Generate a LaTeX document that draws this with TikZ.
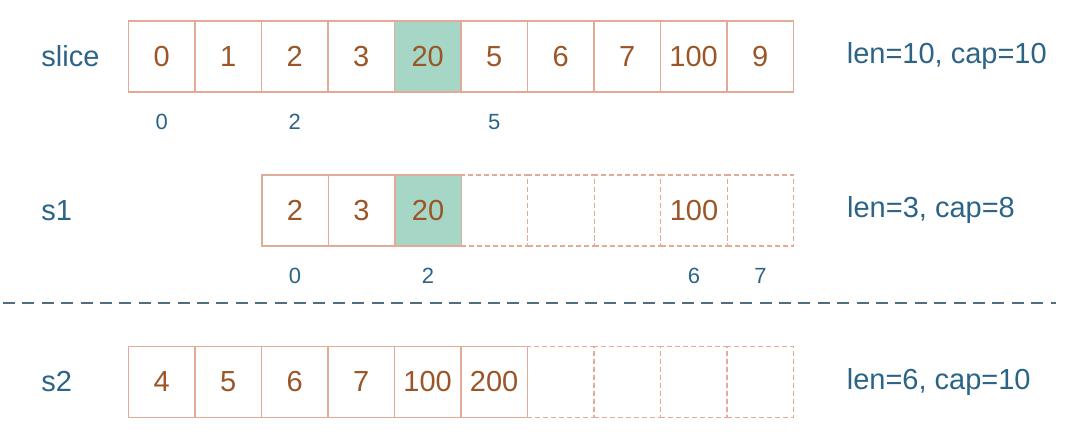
\documentclass[tikz,border=0pt]{standalone}
\usepackage{fontspec}
\setmainfont{Liberation Sans}
\usetikzlibrary{positioning}
\definecolor{cellline}{HTML}{E3AA97}
\definecolor{numtext}{HTML}{9B5526}
\definecolor{nametext}{HTML}{2B6487}
\definecolor{hit}{HTML}{A6D6C6}
\definecolor{sepline}{HTML}{4F6E80}

\begin{document}
\begin{tikzpicture}[x=0.5pt,y=-0.5pt]
\tikzstyle{cell}=[rectangle, minimum width=33.25pt, minimum height=35.5pt, inner sep=0pt, outer sep=0pt, draw=cellline, line width=0.75pt, text=numtext, font=\fontsize{14.5}{17}\selectfont, node distance=0pt]
\tikzstyle{free}=[cell, line width=0.6pt, dash pattern=on 2.5pt off 1.5pt]
\tikzstyle{hitcell}=[cell, fill=hit]
\tikzstyle{rowname}=[anchor=west, inner sep=0pt, text=nametext, font=\fontsize{14.5}{17}\selectfont]
\tikzstyle{info}=[inner sep=0pt, text=nametext, font=\fontsize{14.5}{17}\selectfont]
\tikzstyle{idx}=[inner sep=0pt, text=nametext, font=\fontsize{11}{13}\selectfont]
\tikzstyle{sep}=[draw=sepline, line width=0.7pt, dash pattern=on 6pt off 3.7pt]
\useasboundingbox (0,0) rectangle (1080,438);
  % slice
  \node[rowname] (slice) at (41,56.5) {slice};
  \node[cell] (sl0) at (161.65,56.5) {0};
  \node[cell] (sl1) [right=of sl0] {1};
  \node[cell] (sl2) [right=of sl1] {2};
  \node[cell] (sl3) [right=of sl2] {3};
  \node[hitcell] (sl4) [right=of sl3] {20};
  \node[cell] (sl5) [right=of sl4] {5};
  \node[cell] (sl6) [right=of sl5] {6};
  \node[cell] (sl7) [right=of sl6] {7};
  \node[cell] (sl8) [right=of sl7] {100};
  \node[cell] (sl9) [right=of sl8] {9};
  \node[info, right=26.5pt of sl9] (slinfo) {len=10, cap=10};
  \node[idx, below=11pt of sl0] (sli0) {0};
  \node[idx, below=11pt of sl2] (sli2) {2};
  \node[idx, below=11pt of sl5] (sli5) {5};
  % s1
  \node[rowname] (s1) at (41,210.5) {s1};
  \node[cell] (a0) at (295,210.5) {2};
  \node[cell] (a1) [right=of a0] {3};
  \node[hitcell] (a2) [right=of a1] {20};
  \node[free] (a3) [right=of a2] {};
  \node[free] (a4) [right=of a3] {};
  \node[free] (a5) [right=of a4] {};
  \node[free] (a6) [right=of a5] {100};
  \node[free] (a7) [right=of a6] {};
  \node[info, right=26.5pt of a7] (ainfo) {len=3, cap=8};
  \node[idx, below=11pt of a0] (ai0) {0};
  \node[idx, below=11pt of a2] (ai2) {2};
  \node[idx, below=11pt of a6] (ai6) {6};
  \node[idx, below=11pt of a7] (ai7) {7};
  \path[sep] (3,303) -- (1056,303);
  % s2
  \node[rowname] (s2) at (41,382) {s2};
  \node[cell] (b0) at (161.65,382) {4};
  \node[cell] (b1) [right=of b0] {5};
  \node[cell] (b2) [right=of b1] {6};
  \node[cell] (b3) [right=of b2] {7};
  \node[cell] (b4) [right=of b3] {100};
  \node[cell] (b5) [right=of b4] {200};
  \node[free] (b6) [right=of b5] {};
  \node[free] (b7) [right=of b6] {};
  \node[free] (b8) [right=of b7] {};
  \node[free] (b9) [right=of b8] {};
  \node[info, right=26.5pt of b9] (binfo) {len=6, cap=10};
\end{tikzpicture}
\end{document}
